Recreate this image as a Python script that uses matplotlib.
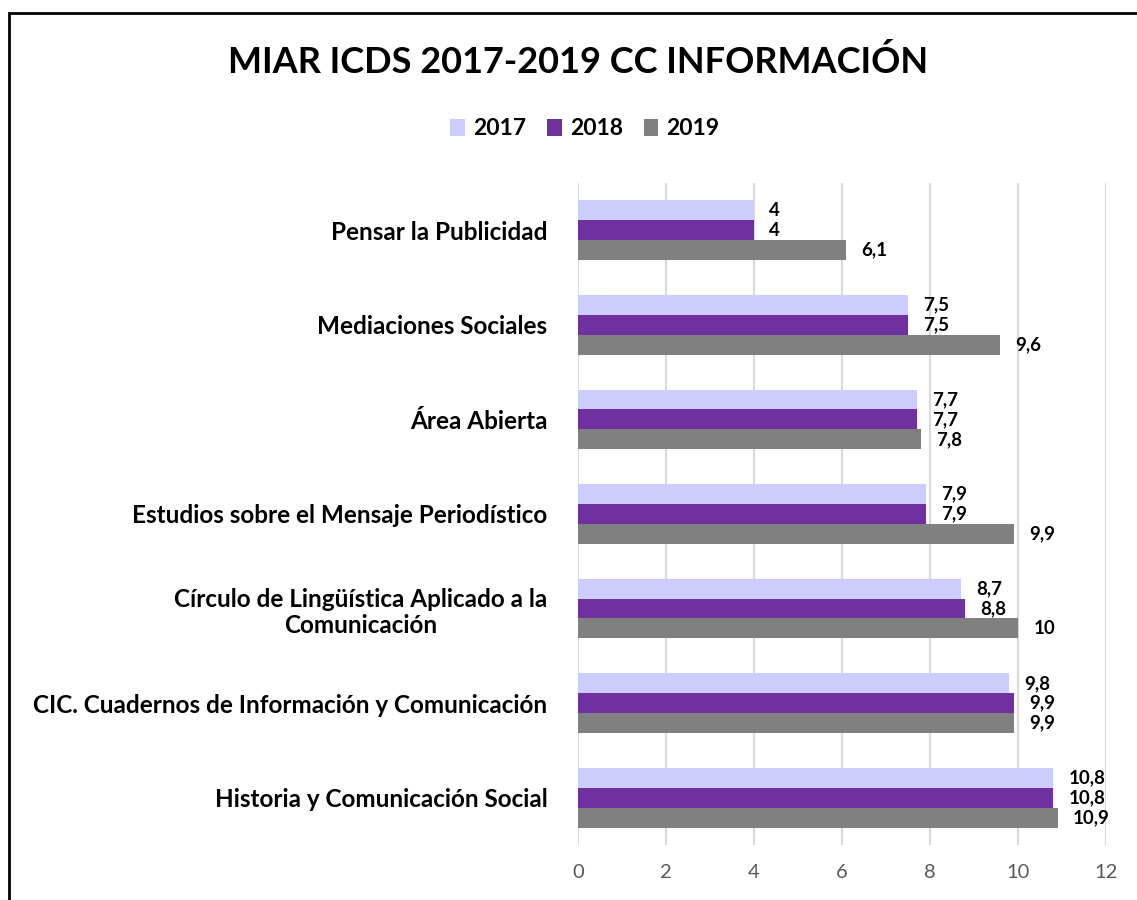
import numpy as np
import matplotlib
matplotlib.use('Agg')
import matplotlib.pyplot as plt
from matplotlib.patches import Rectangle

plt.rcParams['font.family'] = ['Lato', 'DejaVu Sans']

# data, top to bottom as in the chart
categories = [
    'Pensar la Publicidad',
    'Mediaciones Sociales',
    'Área Abierta',
    'Estudios sobre el Mensaje Periodístico',
    'Círculo de Lingüística Aplicado a la\nComunicación',
    'CIC. Cuadernos de Información y Comunicación',
    'Historia y Comunicación Social',
]
years = ['2017', '2018', '2019']
v2017 = [4, 7.5, 7.7, 7.9, 8.7, 9.8, 10.8]
v2018 = [4, 7.5, 7.7, 7.9, 8.8, 9.9, 10.8]
v2019 = [6.1, 9.6, 7.8, 9.9, 10, 9.9, 10.9]
colors = ['#CCCCFF', '#7030A0', '#808080']


def fmt(v):
    s = ('%g' % v)
    return s.replace('.', ',')


fig = plt.figure(figsize=(11.37, 9), dpi=100)
ax = fig.add_axes([0.5084, 0.0611, 0.4643, 0.7356])

y = np.arange(len(categories))
h = 0.21
for i, (vals, c, lab) in enumerate(zip([v2017, v2018, v2019], colors, years)):
    pos = y + (i - 1) * h
    ax.barh(pos, vals, height=h, color=c, label=lab, zorder=3)
    for p, v in zip(pos, vals):
        ax.annotate(fmt(v), (v, p), xytext=(11, 0), textcoords='offset points',
                    ha='left', va='center', fontsize=13.5, fontweight='bold')

ax.set_ylim(len(categories) - 0.5, -0.5)
ax.set_xlim(0, 12)
ax.set_xticks(range(0, 13, 2))
ax.set_yticks(y)
ax.set_yticklabels(categories, fontsize=17.5, fontweight='bold', ha='right',
                   multialignment='center')
ax.tick_params(axis='y', length=0, pad=22)
ax.tick_params(axis='x', length=0, labelsize=14.5, labelcolor='#595959', pad=14)
for s in ax.spines.values():
    s.set_visible(False)
ax.grid(axis='x', color='#D9D9D9', lw=1.5, zorder=0)
ax.set_axisbelow(True)

fig.text(0.508, 0.931, 'MIAR ICDS 2017-2019 CC INFORMACIÓN', ha='center',
         va='center', fontsize=26, fontweight='bold')
fig.legend(loc='center', bbox_to_anchor=(0.5145, 0.857), ncol=3, frameon=False,
           prop={'size': 16.5, 'weight': 'bold'}, handlelength=0.65,
           handleheight=0.75, columnspacing=0.9, handletextpad=0.35)

fig.patches.append(Rectangle((0.008, -0.5), 1.5, 1.4856, transform=fig.transFigure,
                             fill=False, edgecolor='black', lw=2))

fig.savefig('out.png', dpi=100)
